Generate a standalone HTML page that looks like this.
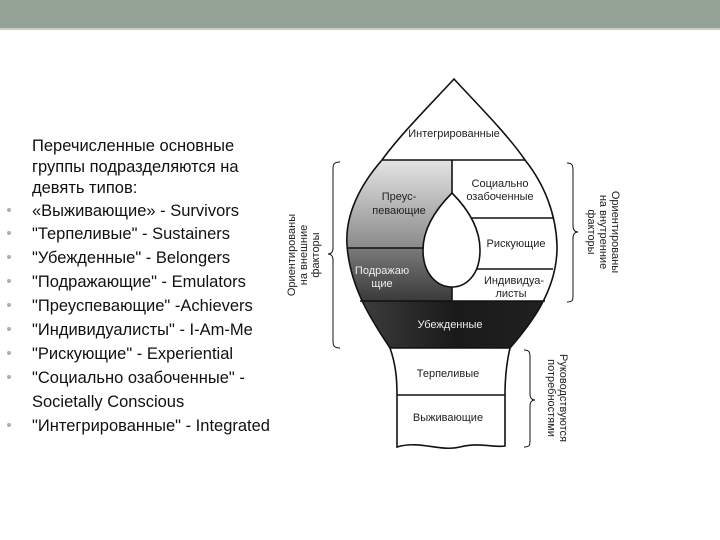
<!DOCTYPE html>
<html><head><meta charset="utf-8"><style>
html,body{margin:0;padding:0;background:#fff;width:720px;height:540px;overflow:hidden}
</style></head><body>
<svg width="720" height="540" viewBox="0 0 720 540" xmlns="http://www.w3.org/2000/svg" font-family="Liberation Sans, Noto Sans CJK SC, sans-serif">
<defs>
<linearGradient id="g1" x1="0" y1="0" x2="0" y2="1"><stop offset="0" stop-color="#e4e4e4"/><stop offset="1" stop-color="#8a8a8a"/></linearGradient>
<linearGradient id="g2" x1="0" y1="0" x2="0" y2="1"><stop offset="0" stop-color="#7a7a7a"/><stop offset="1" stop-color="#3a3a3a"/></linearGradient>
<linearGradient id="g3" x1="0" y1="0" x2="1" y2="0"><stop offset="0" stop-color="#444"/><stop offset="0.5" stop-color="#1a1a1a"/><stop offset="1" stop-color="#222"/></linearGradient>
<clipPath id="bulb"><path d="M454,79 C430,105 400,135 382,160 C360,185 345,215 347,245 C350,290 375,325 390,348 L510,348 C530,325 558,290 557,245 C556,215 545,185 525,160 C508,135 478,105 454,79 Z"/></clipPath>
</defs>
<rect x="0" y="0" width="720" height="28" fill="#94a396"/>
<rect x="0" y="28" width="720" height="2" fill="#c8cfc4"/>
<g font-size="16.5" fill="#111" textLength="0">
<text x="32" y="151">Перечисленные основные</text>
<text x="32" y="172">группы подразделяются на</text>
<text x="32" y="193">девять типов:</text>
<text x="32" y="216">«Выживающие» - Survivors</text>
<text x="32" y="239">"Терпеливые" - Sustainers</text>
<text x="32" y="263">"Убежденные" - Belongers</text>
<text x="32" y="287">"Подражающие" - Emulators</text>
<text x="32" y="311">"Преуспевающие" -Achievers</text>
<text x="32" y="335">"Индивидуалисты" - I-Am-Me</text>
<text x="32" y="359">"Рискующие" - Experiential</text>
<text x="32" y="383">"Социально озабоченные" -</text>
<text x="32" y="407">Societally Conscious</text>
<text x="32" y="431">"Интегрированные" - Integrated</text>
</g>
<g fill="#aab4a6">
<circle cx="9" cy="210" r="2"/><circle cx="9" cy="233" r="2"/><circle cx="9" cy="257" r="2"/><circle cx="9" cy="281" r="2"/><circle cx="9" cy="305" r="2"/><circle cx="9" cy="329" r="2"/><circle cx="9" cy="353" r="2"/><circle cx="9" cy="377" r="2"/><circle cx="9" cy="425" r="2"/>
</g>
<g clip-path="url(#bulb)">
<rect x="340" y="160" width="112" height="88" fill="url(#g1)"/>
<rect x="340" y="248" width="112" height="53" fill="url(#g2)"/>
<rect x="340" y="301" width="230" height="47" fill="url(#g3)"/>
</g>
<g fill="none" stroke="#111" stroke-width="1.6">
<path d="M454,79 C430,105 400,135 382,160 C360,185 345,215 347,245 C350,290 375,325 390,348 L510,348 C530,325 558,290 557,245 C556,215 545,185 525,160 C508,135 478,105 454,79 Z"/>
<line x1="382" y1="160" x2="525" y2="160"/>
<line x1="452" y1="160" x2="452" y2="301"/>
<line x1="348" y1="248" x2="452" y2="248"/>
<line x1="360" y1="301" x2="545" y2="301"/>
<line x1="452" y1="218" x2="553" y2="218"/>
<line x1="452" y1="269" x2="553" y2="269"/>
<path d="M390,348 C396,365 397,380 397,395 L397,447 C420,440 440,452 460,447 C480,442 495,448 505,446 L505,395 C505,380 506,365 510,348"/>
<line x1="397" y1="395" x2="505" y2="395"/>
<path d="M340,162 C333,162 333,165 333,170 L333,248 C333,252 331,254 328,254 C331,254 333,256 333,260 L333,340 C333,345 333,348 340,348" stroke-width="1"/>
<path d="M567,163 C573,163 573,166 573,171 L573,226 C573,230 575,232 578,232 C575,232 573,234 573,238 L573,295 C573,300 573,302 567,302" stroke-width="1"/>
<path d="M524,350 C530,350 530,353 530,358 L530,394 C530,398 532,400 535,400 C532,400 530,402 530,406 L530,440 C530,445 530,447 524,447" stroke-width="1"/>
</g>
<path d="M452,193 C440,205 423,225 423,250 C423,275 438,287 452,287 C466,287 480,275 480,250 C480,225 464,205 452,193 Z" fill="#fff" stroke="#111" stroke-width="1.6"/>
<g font-size="11" fill="#222" text-anchor="middle">
<text x="454" y="137">Интегрированные</text>
<text x="500" y="187">Социально</text>
<text x="500" y="200">озабоченные</text>
<text x="399" y="200">Преус-</text>
<text x="399" y="214">певающие</text>
<text x="516" y="247">Рискующие</text>
<text x="514" y="284">Индивидуа-</text>
<text x="511" y="297">листы</text>
<text x="448" y="377">Терпеливые</text>
<text x="448" y="421">Выживающие</text>
</g>
<g font-size="11" fill="#eee" text-anchor="middle">
<text x="382" y="274">Подражаю</text>
<text x="382" y="287">щие</text>
<text x="450" y="328">Убежденные</text>
</g>
<g font-size="11" fill="#222" text-anchor="middle">
<text transform="translate(295,255) rotate(-90)">Ориентированы</text>
<text transform="translate(307,255) rotate(-90)">на внешние</text>
<text transform="translate(319,255) rotate(-90)">факторы</text>
<text transform="translate(612,232) rotate(90)">Ориентированы</text>
<text transform="translate(600,232) rotate(90)">на внутренние</text>
<text transform="translate(588,232) rotate(90)">факторы</text>
<text transform="translate(560,398) rotate(90)">Руководствуются</text>
<text transform="translate(548,398) rotate(90)">потребностями</text>
</g>
</svg>
</body></html>
